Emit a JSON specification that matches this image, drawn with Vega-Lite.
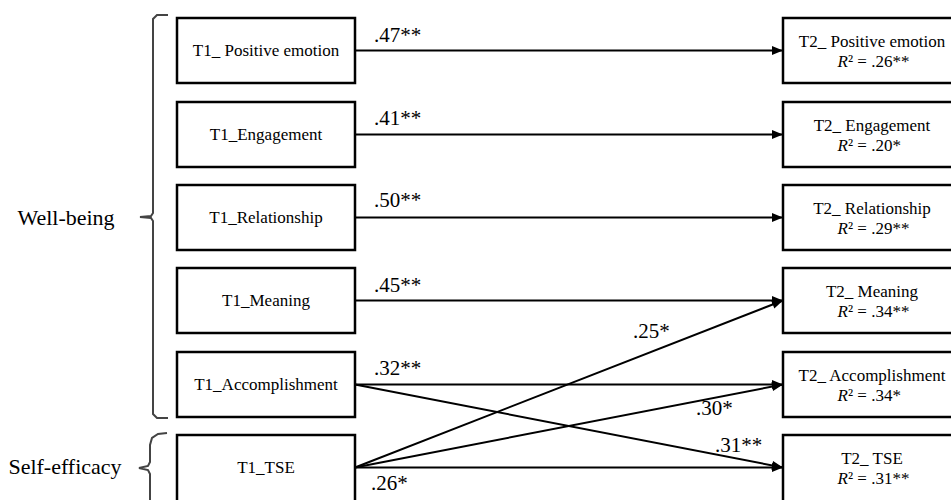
{
  "$schema": "https://vega.github.io/schema/vega-lite/v6.json",
  "width": 951,
  "height": 500,
  "padding": 0,
  "autosize": {"type": "fit", "contains": "padding"},
  "config": {"view": {"stroke": null}, "font": "Liberation Serif"},
  "datasets": {
    "boxes": [
      {"side": "T1", "x1": 177, "x2": 355, "y1": 18, "y2": 83},
      {"side": "T1", "x1": 177, "x2": 355, "y1": 102, "y2": 167},
      {"side": "T1", "x1": 177, "x2": 355, "y1": 185, "y2": 250},
      {"side": "T1", "x1": 177, "x2": 355, "y1": 268, "y2": 333},
      {"side": "T1", "x1": 177, "x2": 355, "y1": 352, "y2": 417},
      {"side": "T1", "x1": 177, "x2": 355, "y1": 435, "y2": 512},
      {"side": "T2", "x1": 783, "x2": 965, "y1": 18, "y2": 83},
      {"side": "T2", "x1": 783, "x2": 965, "y1": 102, "y2": 167},
      {"side": "T2", "x1": 783, "x2": 965, "y1": 185, "y2": 250},
      {"side": "T2", "x1": 783, "x2": 965, "y1": 268, "y2": 333},
      {"side": "T2", "x1": 783, "x2": 965, "y1": 352, "y2": 417},
      {"side": "T2", "x1": 783, "x2": 965, "y1": 435, "y2": 512}
    ],
    "edges": [
      {"x1": 355, "y1": 50.5, "x2": 783, "y2": 50.5, "angle": 0},
      {"x1": 355, "y1": 134.5, "x2": 783, "y2": 134.5, "angle": 0},
      {"x1": 355, "y1": 217.5, "x2": 783, "y2": 217.5, "angle": 0},
      {"x1": 355, "y1": 300.5, "x2": 783, "y2": 300.5, "angle": 0},
      {"x1": 355, "y1": 384.5, "x2": 783, "y2": 384.5, "angle": 0},
      {"x1": 355, "y1": 467.5, "x2": 783, "y2": 467.5, "angle": 0},
      {"x1": 355, "y1": 384.5, "x2": 783, "y2": 467.5, "angle": 10.97},
      {"x1": 355, "y1": 467.5, "x2": 783, "y2": 300.5, "angle": -21.31},
      {"x1": 355, "y1": 467.5, "x2": 783, "y2": 384.5, "angle": -10.97}
    ],
    "coefs": [
      {"x": 374, "y": 42, "label": ".47**"},
      {"x": 374, "y": 125, "label": ".41**"},
      {"x": 374, "y": 207, "label": ".50**"},
      {"x": 374, "y": 292, "label": ".45**"},
      {"x": 374, "y": 375, "label": ".32**"},
      {"x": 371, "y": 490, "label": ".26*"},
      {"x": 633, "y": 338, "label": ".25*"},
      {"x": 696, "y": 415, "label": ".30*"},
      {"x": 715, "y": 452, "label": ".31**"}
    ],
    "t1": [
      {"x": 266, "y": 50.5, "label": "T1_ Positive emotion"},
      {"x": 266, "y": 134.5, "label": "T1_Engagement"},
      {"x": 266, "y": 217.5, "label": "T1_Relationship"},
      {"x": 266, "y": 300.5, "label": "T1_Meaning"},
      {"x": 266, "y": 384.5, "label": "T1_Accomplishment"},
      {"x": 266, "y": 467.5, "label": "T1_TSE"}
    ],
    "t2": [
      {"x": 872, "y": 47, "y2": 67, "label": "T2_ Positive emotion", "r2": "² = .26**"},
      {"x": 872, "y": 131, "y2": 151, "label": "T2_ Engagement", "r2": "² = .20*"},
      {"x": 872, "y": 214, "y2": 234, "label": "T2_ Relationship", "r2": "² = .29**"},
      {"x": 872, "y": 297, "y2": 317, "label": "T2_ Meaning", "r2": "² = .34**"},
      {"x": 872, "y": 381, "y2": 401, "label": "T2_ Accomplishment", "r2": "² = .34*"},
      {"x": 872, "y": 464, "y2": 484, "label": "T2_ TSE", "r2": "² = .31**"}
    ],
    "groups": [
      {"x": 66, "y": 217.5, "label": "Well-being"},
      {"x": 65, "y": 467, "label": "Self-efficacy"}
    ],
    "braces": [
      {"g": "wb", "i": 0, "x": 168, "y": 15},
      {"g": "wb", "i": 1, "x": 157, "y": 15},
      {"g": "wb", "i": 2, "x": 153, "y": 19},
      {"g": "wb", "i": 3, "x": 153, "y": 213},
      {"g": "wb", "i": 4, "x": 151, "y": 216},
      {"g": "wb", "i": 5, "x": 140, "y": 217},
      {"g": "wb", "i": 6, "x": 151, "y": 218},
      {"g": "wb", "i": 7, "x": 153, "y": 221},
      {"g": "wb", "i": 8, "x": 153, "y": 414},
      {"g": "wb", "i": 9, "x": 157, "y": 418},
      {"g": "wb", "i": 10, "x": 168, "y": 418},
      {"g": "se", "i": 0, "x": 167, "y": 433},
      {"g": "se", "i": 1, "x": 158, "y": 434},
      {"g": "se", "i": 2, "x": 152, "y": 438},
      {"g": "se", "i": 3, "x": 150, "y": 445},
      {"g": "se", "i": 4, "x": 150, "y": 462},
      {"g": "se", "i": 5, "x": 148, "y": 466},
      {"g": "se", "i": 6, "x": 139, "y": 468},
      {"g": "se", "i": 7, "x": 148, "y": 470},
      {"g": "se", "i": 8, "x": 150, "y": 474},
      {"g": "se", "i": 9, "x": 150, "y": 505}
    ]
  },
  "layer": [
    {
      "data": {"name": "braces"},
      "mark": {"type": "line", "stroke": "#444444", "strokeWidth": 2, "clip": true},
      "encoding": {
        "x": {"field": "x", "type": "quantitative", "scale": {"domain": [0, 951], "nice": false, "zero": false}, "axis": null},
        "y": {"field": "y", "type": "quantitative", "scale": {"domain": [0, 500], "nice": false, "zero": false, "reverse": true}, "axis": null},
        "detail": {"field": "g"},
        "order": {"field": "i", "type": "quantitative"}
      }
    },
    {
      "data": {"name": "edges"},
      "mark": {"type": "rule", "stroke": "black", "strokeWidth": 2},
      "encoding": {
        "x": {"field": "x1", "type": "quantitative"},
        "y": {"field": "y1", "type": "quantitative"},
        "x2": {"field": "x2"},
        "y2": {"field": "y2"}
      }
    },
    {
      "data": {"name": "edges"},
      "mark": {"type": "point", "shape": "M0,0L-1,-0.4L-1,0.4Z", "filled": true, "fill": "black", "stroke": null, "size": 484, "opacity": 1},
      "encoding": {
        "x": {"field": "x2", "type": "quantitative"},
        "y": {"field": "y2", "type": "quantitative"},
        "angle": {"field": "angle", "type": "quantitative", "scale": null}
      }
    },
    {
      "data": {"name": "boxes"},
      "mark": {"type": "rect", "fill": "white", "stroke": "black", "strokeWidth": 2.5, "clip": true},
      "encoding": {
        "x": {"field": "x1", "type": "quantitative"},
        "x2": {"field": "x2"},
        "y": {"field": "y1", "type": "quantitative"},
        "y2": {"field": "y2"}
      }
    },
    {
      "data": {"name": "coefs"},
      "mark": {"type": "text", "align": "left", "baseline": "alphabetic", "fontSize": 21, "font": "Liberation Serif", "color": "black"},
      "encoding": {
        "x": {"field": "x", "type": "quantitative"},
        "y": {"field": "y", "type": "quantitative"},
        "text": {"field": "label"}
      }
    },
    {
      "data": {"name": "t1"},
      "mark": {"type": "text", "align": "center", "baseline": "middle", "fontSize": 17, "font": "Liberation Serif", "color": "black"},
      "encoding": {
        "x": {"field": "x", "type": "quantitative"},
        "y": {"field": "y", "type": "quantitative"},
        "text": {"field": "label"}
      }
    },
    {
      "data": {"name": "t2"},
      "mark": {"type": "text", "align": "center", "baseline": "alphabetic", "fontSize": 17, "font": "Liberation Serif", "color": "black"},
      "encoding": {
        "x": {"field": "x", "type": "quantitative"},
        "y": {"field": "y", "type": "quantitative"},
        "text": {"field": "label"}
      }
    },
    {
      "data": {"name": "t2"},
      "mark": {"type": "text", "align": "right", "baseline": "alphabetic", "fontSize": 17, "font": "Liberation Serif", "fontStyle": "italic", "color": "black", "dx": -24},
      "encoding": {
        "x": {"field": "x", "type": "quantitative"},
        "y": {"field": "y2", "type": "quantitative"},
        "text": {"value": "R"}
      }
    },
    {
      "data": {"name": "t2"},
      "mark": {"type": "text", "align": "left", "baseline": "alphabetic", "fontSize": 17, "font": "Liberation Serif", "color": "black", "dx": -24},
      "encoding": {
        "x": {"field": "x", "type": "quantitative"},
        "y": {"field": "y2", "type": "quantitative"},
        "text": {"field": "r2"}
      }
    },
    {
      "data": {"name": "groups"},
      "mark": {"type": "text", "align": "center", "baseline": "middle", "fontSize": 22, "font": "Liberation Serif", "color": "black"},
      "encoding": {
        "x": {"field": "x", "type": "quantitative"},
        "y": {"field": "y", "type": "quantitative"},
        "text": {"field": "label"}
      }
    }
  ]
}
